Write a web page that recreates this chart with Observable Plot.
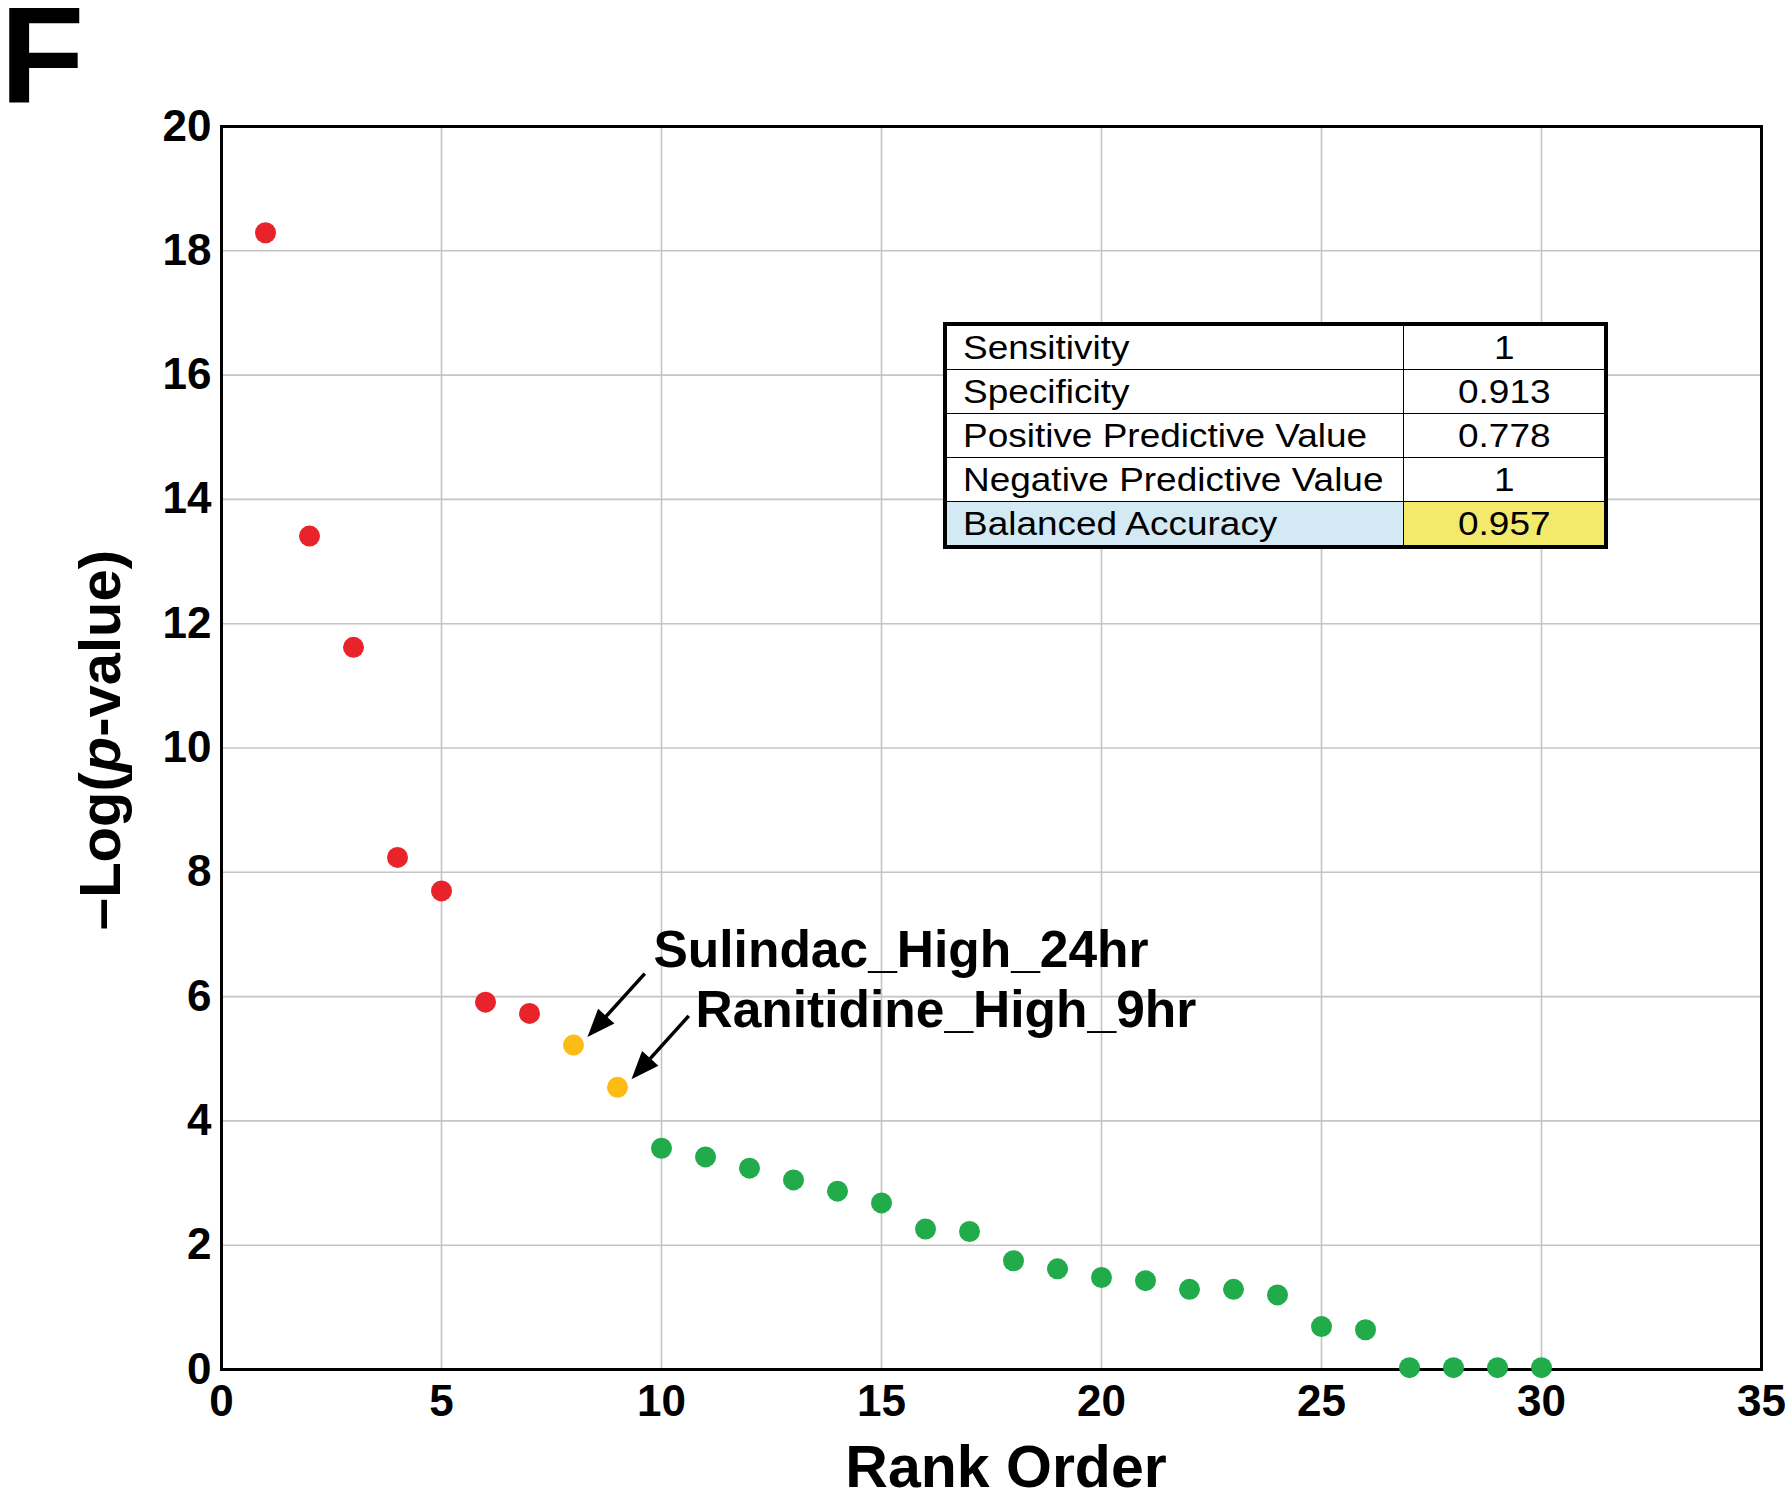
<!DOCTYPE html>
<html>
<head>
<meta charset="utf-8">
<script src="https://cdn.jsdelivr.net/npm/d3@7"></script>
<script src="https://cdn.jsdelivr.net/npm/@observablehq/plot@0.6"></script>
<style>
  body { margin: 0; background: #fff; }
  #wrap { position: relative; width: 1790px; height: 1500px; font-family: "Liberation Sans", Arial, sans-serif; }
  #panel { position: absolute; left: 0; top: 4px; font-size: 138px; line-height: 103.5px; height: 103.5px; font-weight: bold; color: #000; }
  #stats { position: absolute; left: 943px; top: 322px; border-collapse: collapse; border: 4px solid #000; font-size: 33px; background: #fff; }
  #stats td { border: 1.5px solid #000; height: 43px; padding: 0 0 0 16px; line-height: 1; white-space: nowrap; }
  #stats td span { display: inline-block; transform: scaleX(1.12); transform-origin: 0 50%; }
  #stats td.v { width: 200px; text-align: center; padding: 0; }
  #stats td.v span { transform-origin: 50% 50%; }
  #stats td.l { width: 440px; }
  #stats tr.hl td.l { background: #d3eaf4; }
  #stats tr.hl td.v { background: #f3ea6c; }
</style>
</head>
<body>
<div id="wrap"></div>
<script>
// ---- data ----
const ranks = [1,2,3,4,5,6,7,8,9,10,11,12,13,14,15,16,17,18,19,20,21,22,23,24,25,26,27,28,29,30];
const negLogP = [18.29,13.41,11.62,8.24,7.70,5.91,5.73,5.22,4.54,3.56,3.42,3.24,3.05,2.87,2.68,2.26,2.22,1.75,1.62,1.48,1.43,1.29,1.29,1.20,0.69,0.64,0.03,0.03,0.03,0.03];
const groups = ["pos","pos","pos","pos","pos","pos","pos","mis","mis",
  "neg","neg","neg","neg","neg","neg","neg","neg","neg","neg","neg","neg","neg","neg","neg","neg","neg","neg","neg","neg","neg"];
const groupNames = ["pos","mis","neg"];
const groupColors = ["#e8232a","#fdbb16","#22ab4b"];
const xTicks = [0,5,10,15,20,25,30,35];
const yTicks = [0,2,4,6,8,10,12,14,16,18,20];
const annotRanks = [8, 9];
const annotLabels = ["Sulindac_High_24hr", "Ranitidine_High_9hr"];
const tableLabels = ["Sensitivity","Specificity","Positive Predictive Value","Negative Predictive Value","Balanced Accuracy"];
const tableValues = ["1","0.913","0.778","1","0.957"];
const panelLetter = "F";

// ---- build ----
const data = ranks.map((r, i) => ({rank: r, value: negLogP[i], group: groups[i]}));
const ann = annotRanks.map((r, i) => ({rank: r, value: data.find(d => d.rank === r).value, label: annotLabels[i]}));

const font = "'Liberation Sans', Arial, Helvetica, sans-serif";
const plot = Plot.plot({
  width: 1790,
  height: 1500,
  marginLeft: 221,
  marginRight: 29,
  marginTop: 126,
  marginBottom: 131,
  style: {fontFamily: font, background: "white", overflow: "visible", color: "black"},
  x: {domain: [0, 35], label: null},
  y: {domain: [0, 20], label: null},
  color: {domain: groupNames, range: groupColors},
  marks: [
    Plot.gridX(xTicks, {stroke: "#c4c4c4", strokeOpacity: 1, strokeWidth: 1.6}),
    Plot.gridY(yTicks, {stroke: "#c4c4c4", strokeOpacity: 1, strokeWidth: 1.6}),
    Plot.frame({stroke: "black", strokeWidth: 3}),
    Plot.axisX(xTicks, {tickSize: 0, tickPadding: 15, fontSize: 44, fontWeight: "bold", label: null, tickFormat: d => String(d)}),
    Plot.axisY(yTicks, {tickSize: 0, tickPadding: 10, fontSize: 44, fontWeight: "bold", label: null, tickFormat: d => String(d)}),
    Plot.link(ann, {
      x1: d => d.rank + 1.62, y1: d => d.value + 1.15,
      x2: d => d.rank + 0.47, y2: d => d.value + 0.25,
      stroke: "black", strokeWidth: 3.5
    }),
    Plot.dot(data, {x: "rank", y: "value", fill: "group", r: 10.5}),
    Plot.text([ann[0]], {x: "rank", y: "value", text: "label", dx: 80, dy: -78, textAnchor: "start", lineAnchor: "bottom", fontSize: 51.5, fontWeight: "bold"}),
    Plot.text([ann[1]], {x: "rank", y: "value", text: "label", dx: 78, dy: -60, textAnchor: "start", lineAnchor: "bottom", fontSize: 51.5, fontWeight: "bold"})
  ]
});

const wrap = document.getElementById("wrap");
wrap.appendChild(plot);

const svg = d3.select(plot);
// filled arrowheads for the annotation links
const defs = svg.insert("defs", ":first-child");
defs.append("marker")
  .attr("id", "ah")
  .attr("markerUnits", "userSpaceOnUse")
  .attr("markerWidth", 36).attr("markerHeight", 32)
  .attr("viewBox", "-4 -16 36 32")
  .attr("refX", 18).attr("refY", 0)
  .attr("orient", "auto")
  .append("path").attr("d", "M0,-11L28,0L0,11Z").attr("fill", "black");
svg.selectAll('g[aria-label="link"] path, g[aria-label="link"] line').attr("marker-end", "url(#ah)");

// axis titles
svg.append("text").attr("x", 1006).attr("y", 1487).attr("text-anchor", "middle")
  .attr("font-size", 59).attr("font-weight", "bold").attr("font-family", font)
  .text("Rank Order");
const yt = svg.append("text").attr("transform", "translate(120,740) rotate(-90)").attr("text-anchor", "middle")
  .attr("font-size", 58).attr("font-weight", "bold").attr("font-family", font);
yt.append("tspan").text("\u2013Log(");
yt.append("tspan").attr("font-style", "italic").text("p");
yt.append("tspan").text("-value)");

// panel letter
d3.select(wrap).append("div").attr("id", "panel").text(panelLetter);

// statistics table
const table = d3.select(wrap).append("table").attr("id", "stats");
tableLabels.forEach((lab, i) => {
  const tr = table.append("tr").classed("hl", i === tableLabels.length - 1);
  tr.append("td").attr("class", "l").append("span").text(lab);
  tr.append("td").attr("class", "v").append("span").text(tableValues[i]);
});
</script>
</body>
</html>
